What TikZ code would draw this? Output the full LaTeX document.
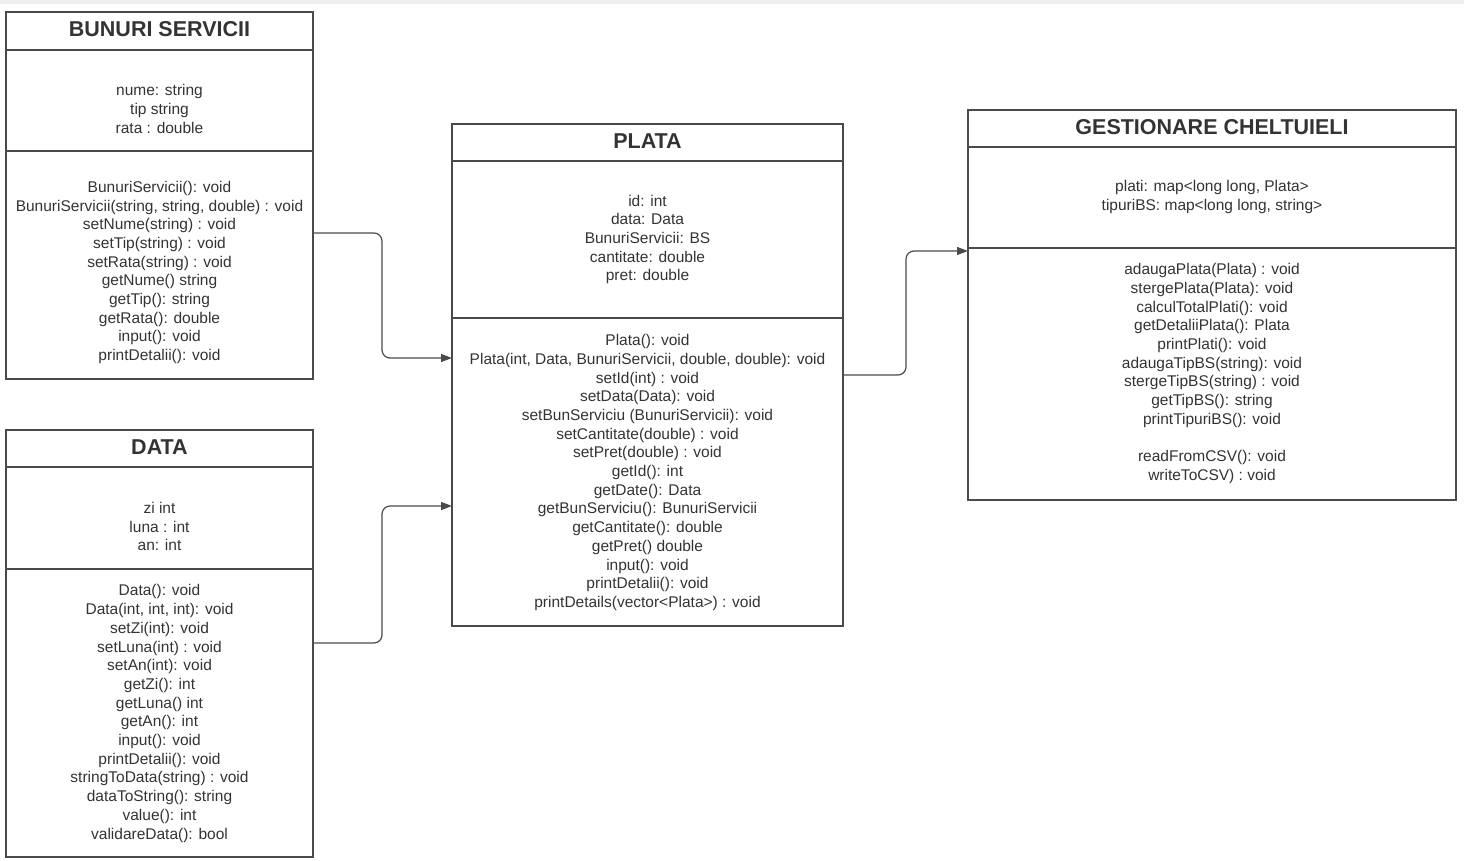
\documentclass[tikz,border=0pt]{standalone}
\usepackage{fontspec}
\setmainfont{Liberation Sans}
\usetikzlibrary{arrows.meta}
\definecolor{txt}{HTML}{333333}
\definecolor{ln}{HTML}{4A4A4A}
\definecolor{strip}{HTML}{EFEFEF}
\begin{document}
\begin{tikzpicture}[x=1pt,y=-1pt,
  classbox/.style={draw=ln,line width=1.6pt,inner sep=0pt,outer sep=0pt,anchor=north west},
  divider/.style={draw=ln,line width=1.6pt},
  ttl/.style={font=\bfseries\fontsize{21.5}{24}\selectfont,text=txt,inner sep=0pt},
  body/.style={font=\fontsize{15.5}{18.7}\selectfont,text=txt,align=center,inner sep=0pt},
  conn/.style={draw=ln,line width=1.2pt,rounded corners=8pt,-{Triangle[length=11pt,width=8pt]}}]
\useasboundingbox (0,0) rectangle (1464,860);
\fill[strip] (0,0) rectangle (1464,4);

% ---------- BUNURI SERVICII ----------
\node[classbox,minimum width=307pt,minimum height=367pt] (bs) at (6,12) {};
\draw[divider] (6,50) -- (313,50);
\draw[divider] (6,151) -- (313,151);
\node[ttl] (bsT) at (159.5,29) {BUNURI SERVICII};
\node[body] (bsA) at (159.5,109) {nume: string\\tip string\\rata : double};
\node[body] (bsM) at (159.5,272.5) {BunuriServicii(): void\\BunuriServicii(string, string, double) : void\\setNume(string) : void\\setTip(string) : void\\setRata(string) : void\\getNume() string\\getTip(): string\\getRata(): double\\input(): void\\printDetalii(): void};

% ---------- DATA ----------
\node[classbox,minimum width=307pt,minimum height=427pt] (data) at (6,430) {};
\draw[divider] (6,467) -- (313,467);
\draw[divider] (6,569) -- (313,569);
\node[ttl] (dataT) at (159.5,447) {DATA};
\node[body] (dataA) at (159.5,526.5) {zi int\\luna : int\\an: int};
\node[body] (dataM) at (159.5,713.5) {Data(): void\\Data(int, int, int): void\\setZi(int): void\\setLuna(int) : void\\setAn(int): void\\getZi(): int\\getLuna() int\\getAn(): int\\input(): void\\printDetalii(): void\\stringToData(string) : void\\dataToString(): string\\value(): int\\validareData(): bool};

% ---------- PLATA ----------
\node[classbox,minimum width=391pt,minimum height=502pt] (plata) at (452,124) {};
\draw[divider] (452,161) -- (843,161);
\draw[divider] (452,318) -- (843,318);
\node[ttl] (plataT) at (647.5,141) {PLATA};
\node[body] (plataA) at (647.5,239.5) {id: int\\data: Data\\BunuriServicii: BS\\cantitate: double\\pret: double};
\node[body] (plataM) at (647.5,472.5) {Plata(): void\\Plata(int, Data, BunuriServicii, double, double): void\\setId(int) : void\\setData(Data): void\\setBunServiciu (BunuriServicii): void\\setCantitate(double) : void\\setPret(double) : void\\getId(): int\\getDate(): Data\\getBunServiciu(): BunuriServicii\\getCantitate(): double\\getPret() double\\input(): void\\printDetalii(): void\\printDetails(vector<Plata>) : void};

% ---------- GESTIONARE CHELTUIELI ----------
\node[classbox,minimum width=488pt,minimum height=390pt] (gc) at (968,110) {};
\draw[divider] (968,147) -- (1456,147);
\draw[divider] (968,248) -- (1456,248);
\node[ttl] (gcT) at (1212,127) {GESTIONARE CHELTUIELI};
\node[body] (gcA) at (1212,197) {plati: map<long long, Plata>\\tipuriBS: map<long long, string>};
\node[body] (gcM) at (1212,373.5) {adaugaPlata(Plata) : void\\stergePlata(Plata): void\\calculTotalPlati(): void\\getDetaliiPlata(): Plata\\printPlati(): void\\adaugaTipBS(string): void\\stergeTipBS(string) : void\\getTipBS(): string\\printTipuriBS(): void\\[18.7pt]readFromCSV(): void\\writeToCSV) : void};

% ---------- connectors ----------
\coordinate (c1a) at (382,233);
\coordinate (c1b) at (382,358);
\draw[conn] (bs.east |- c1a) -- (c1a) -- (c1b) -- (plata.west |- c1b);

\coordinate (c2a) at (382,643);
\coordinate (c2b) at (382,506);
\draw[conn] (data.east |- c2a) -- (c2a) -- (c2b) -- (plata.west |- c2b);

\coordinate (c3a) at (906,375);
\coordinate (c3b) at (906,251);
\draw[conn] (plata.east |- c3a) -- (c3a) -- (c3b) -- (gc.west |- c3b);
\end{tikzpicture}
\end{document}
